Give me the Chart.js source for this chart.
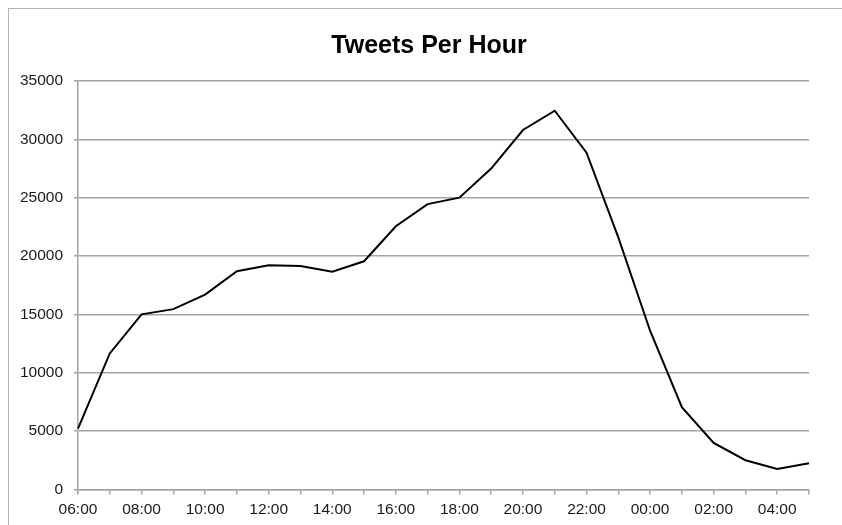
<!DOCTYPE html>
<html>
<head>
<meta charset="utf-8">
<title>Tweets Per Hour</title>
<script src="https://cdn.jsdelivr.net/npm/chart.js@4.4.1/dist/chart.umd.min.js"></script>
<style>
  html, body { margin: 0; padding: 0; background: #ffffff; }
  #wrap { position: relative; width: 842px; height: 525px; overflow: hidden; }
  #frame {
    position: absolute; left: 8px; top: 8px; right: -4px; bottom: -4px;
    border-left: 1.5px solid #b4b4b4; border-top: 1.5px solid #b4b4b4;
    pointer-events: none;
  }
  canvas { position: absolute; left: 0; top: 0; }
</style>
</head>
<body>
<div id="wrap">
  <canvas id="chart" width="842" height="525"></canvas>
  <div id="frame"></div>
</div>
<script>
// Hour of day, one point per hour starting at 06:00
const hours = ['06:00','07:00','08:00','09:00','10:00','11:00','12:00','13:00',
               '14:00','15:00','16:00','17:00','18:00','19:00','20:00','21:00',
               '22:00','23:00','00:00','01:00','02:00','03:00','04:00','05:00'];

// Tweets counted in each hour
const tweets = [5200, 11650, 15000, 15450, 16700, 18700, 19200, 19150,
                18650, 19550, 22550, 24450, 25000, 27500, 30800, 32450,
                28850, 21600, 13600, 7050, 3980, 2500, 1750, 2250];

// Value axis range
const yMin = 0;
const yMax = 35000;
const yStep = 5000;

const gridGray = '#a3a3a3';
const tickFont = { family: '"Liberation Sans", Arial, sans-serif', size: 15.5 };

new Chart(document.getElementById('chart'), {
  type: 'line',
  data: {
    labels: hours,
    datasets: [{
      label: 'Tweets',
      data: tweets,
      borderColor: '#000000',
      borderWidth: 2,
      pointRadius: 0,
      tension: 0,
      fill: false
    }]
  },
  options: {
    responsive: false,
    animation: false,
    layout: { padding: { left: 18, right: 2, top: 6, bottom: 0 } },
    plugins: {
      legend: { display: false },
      tooltip: { enabled: false },
      title: {
        display: true,
        text: 'Tweets Per Hour',
        color: '#000000',
        font: { family: '"Liberation Sans", Arial, sans-serif', size: 25, weight: 'bold' },
        padding: { top: 25, bottom: 20 }
      }
    },
    scales: {
      x: {
        type: 'category',
        offset: false,
        border: { display: true, color: gridGray, width: 1.5 },
        grid: {
          display: true,
          drawOnChartArea: false,
          drawTicks: true,
          tickLength: 5,
          color: gridGray,
          lineWidth: 1.5
        },
        ticks: {
          autoSkip: false,
          maxRotation: 0,
          minRotation: 0,
          padding: 6,
          color: '#1a1a1a',
          font: tickFont,
          callback: function (value, index) {
            return index % 2 === 0 ? hours[index] : '';
          }
        }
      },
      y: {
        min: yMin,
        max: yMax,
        border: { display: true, color: gridGray, width: 1.5 },
        grid: {
          display: true,
          drawOnChartArea: true,
          drawTicks: true,
          tickLength: 4,
          color: gridGray,
          lineWidth: 1.5
        },
        ticks: {
          stepSize: yStep,
          padding: 11,
          color: '#1a1a1a',
          font: tickFont,
          callback: function (value) { return String(value); }
        },
        afterFit: function (scale) { scale.width = 60; }
      },
      // empty margin on the right of the plot
      yRight: {
        position: 'right',
        display: true,
        border: { display: false },
        grid: { display: false, drawTicks: false },
        ticks: { display: false },
        afterFit: function (scale) { scale.width = 31; }
      }
    }
  }
});
</script>
</body>
</html>
